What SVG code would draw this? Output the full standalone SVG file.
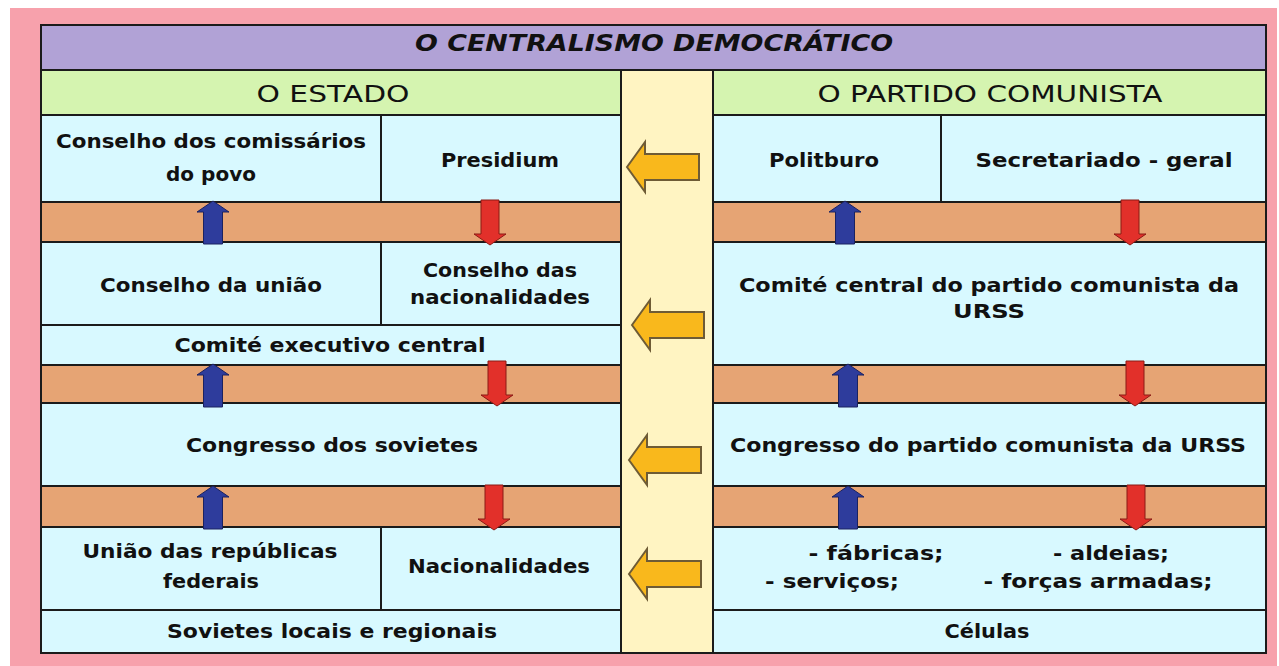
<svg xmlns="http://www.w3.org/2000/svg" xmlns:xlink="http://www.w3.org/1999/xlink" width="1279" height="666" viewBox="0 0 1279 666">
<style>
.ln{stroke:#1b1b1b;stroke-width:2;}
.cell{fill:#D8F9FF;stroke:#1b1b1b;stroke-width:2;}
.band{fill:#E6A474;stroke:#1b1b1b;stroke-width:2;}
.t{font-family:"DejaVu Sans","Liberation Sans",sans-serif;font-weight:bold;font-size:19px;fill:#111;text-anchor:middle;}
.h{font-family:"DejaVu Sans","Liberation Sans",sans-serif;font-size:23px;fill:#111;text-anchor:middle;}
.ti{font-family:"DejaVu Sans","Liberation Sans",sans-serif;font-weight:bold;font-style:italic;font-size:23px;fill:#111;text-anchor:middle;}
.ya{fill:#F9B81C;stroke:#6E5B35;stroke-width:2;stroke-linejoin:miter;}
.ba{fill:#2E3C9C;stroke:#1B2260;stroke-width:1;}
.ra{fill:#E2302A;stroke:#8A1A15;stroke-width:1;}
</style>
<defs>
<path id="yarrow" d="M0,0 L18,-25 L18,-13 L72,-13 L72,13 L18,13 L18,25 Z"/>
<path id="barrow" d="M0,0 L16,11 L9.5,11 L9.5,43 L-9.5,43 L-9.5,11 L-16,11 Z"/>
<path id="rarrow" d="M0,0 L-16,-11 L-9,-11 L-9,-45 L9,-45 L9,-11 L16,-11 Z"/>
</defs>
<rect x="0" y="0" width="1279" height="666" fill="#FFFFFF"/>
<rect x="10" y="8" width="1267" height="658" fill="#F7A1AC"/>

<g id="title">
<rect x="41" y="25" width="1225" height="45" fill="#B1A2D6" class="ln"/>
<text class="ti" x="654" y="51" textLength="478" lengthAdjust="spacingAndGlyphs">O CENTRALISMO DEMOCRÁTICO</text>
</g>
<g id="header-estado">
<rect x="41" y="70" width="580" height="45" fill="#D5F4B0" class="ln"/>
<text class="h" x="333" y="102" textLength="153" lengthAdjust="spacingAndGlyphs">O ESTADO</text>
</g>
<g id="header-partido">
<rect x="713" y="70" width="553" height="45" fill="#D5F4B0" class="ln"/>
<text class="h" x="990" y="102" textLength="345" lengthAdjust="spacingAndGlyphs">O PARTIDO COMUNISTA</text>
</g>
<g id="middle-column">
<rect x="621" y="70" width="92" height="583" fill="#FFF4C2" class="ln"/>
</g>

<g id="bands">
<rect class="band" x="41" y="202" width="580" height="40"/>
<rect class="band" x="41" y="365" width="580" height="38"/>
<rect class="band" x="41" y="486" width="580" height="41"/>
<rect class="band" x="713" y="202" width="553" height="40"/>
<rect class="band" x="713" y="365" width="553" height="38"/>
<rect class="band" x="713" y="486" width="553" height="41"/>
</g>

<g id="conselho-comissarios">
<rect class="cell" x="41" y="115" width="340" height="87"/>
<text class="t" x="211" y="148" textLength="310" lengthAdjust="spacingAndGlyphs">Conselho dos comissários</text>
<text class="t" x="211" y="181" textLength="90" lengthAdjust="spacingAndGlyphs">do povo</text>
</g>
<g id="presidium">
<rect class="cell" x="381" y="115" width="240" height="87"/>
<text class="t" x="500" y="167" textLength="118" lengthAdjust="spacingAndGlyphs">Presidium</text>
</g>
<g id="politburo">
<rect class="cell" x="713" y="115" width="228" height="87"/>
<text class="t" x="824" y="167" textLength="110" lengthAdjust="spacingAndGlyphs">Politburo</text>
</g>
<g id="secretariado">
<rect class="cell" x="941" y="115" width="325" height="87"/>
<text class="t" x="1104" y="167" textLength="257" lengthAdjust="spacingAndGlyphs">Secretariado - geral</text>
</g>

<g id="conselho-uniao">
<rect class="cell" x="41" y="242" width="340" height="83"/>
<text class="t" x="211" y="292" textLength="222" lengthAdjust="spacingAndGlyphs">Conselho da união</text>
</g>
<g id="conselho-nacionalidades">
<rect class="cell" x="381" y="242" width="240" height="83"/>
<text class="t" x="500" y="277" textLength="154" lengthAdjust="spacingAndGlyphs">Conselho das</text>
<text class="t" x="500" y="304" textLength="180" lengthAdjust="spacingAndGlyphs">nacionalidades</text>
</g>
<g id="comite-executivo">
<rect class="cell" x="41" y="325" width="580" height="40"/>
<text class="t" x="330" y="352" textLength="311" lengthAdjust="spacingAndGlyphs">Comité executivo central</text>
</g>
<g id="comite-central">
<rect class="cell" x="713" y="242" width="553" height="123"/>
<text class="t" x="989" y="292" textLength="500" lengthAdjust="spacingAndGlyphs">Comité central do partido comunista da</text>
<text class="t" x="989" y="318" textLength="72" lengthAdjust="spacingAndGlyphs">URSS</text>
</g>

<g id="congresso-sovietes">
<rect class="cell" x="41" y="403" width="580" height="83"/>
<text class="t" x="332" y="452" textLength="292" lengthAdjust="spacingAndGlyphs">Congresso dos sovietes</text>
</g>
<g id="congresso-partido">
<rect class="cell" x="713" y="403" width="553" height="83"/>
<text class="t" x="988" y="452" textLength="516" lengthAdjust="spacingAndGlyphs">Congresso do partido comunista da URSS</text>
</g>

<g id="uniao-republicas">
<rect class="cell" x="41" y="527" width="340" height="83"/>
<text class="t" x="210" y="558" textLength="255" lengthAdjust="spacingAndGlyphs">União das repúblicas</text>
<text class="t" x="211" y="588" textLength="96" lengthAdjust="spacingAndGlyphs">federais</text>
</g>
<g id="nacionalidades">
<rect class="cell" x="381" y="527" width="240" height="83"/>
<text class="t" x="499" y="573" textLength="182" lengthAdjust="spacingAndGlyphs">Nacionalidades</text>
</g>
<g id="locais-trabalho">
<rect class="cell" x="713" y="527" width="553" height="83"/>
<text class="t" x="876" y="560" textLength="135" lengthAdjust="spacingAndGlyphs">- fábricas;</text>
<text class="t" x="1111" y="560" textLength="116" lengthAdjust="spacingAndGlyphs">- aldeias;</text>
<text class="t" x="832" y="588" textLength="134" lengthAdjust="spacingAndGlyphs">- serviços;</text>
<text class="t" x="1098" y="588" textLength="229" lengthAdjust="spacingAndGlyphs">- forças armadas;</text>
</g>
<g id="sovietes-locais">
<rect class="cell" x="41" y="610" width="580" height="43"/>
<text class="t" x="332" y="638" textLength="330" lengthAdjust="spacingAndGlyphs">Sovietes locais e regionais</text>
</g>
<g id="celulas">
<rect class="cell" x="713" y="610" width="553" height="43"/>
<text class="t" x="987" y="638" textLength="85" lengthAdjust="spacingAndGlyphs">Células</text>
</g>

<g id="connectors">
<use href="#yarrow" class="ya" x="627" y="167"/>
<use href="#yarrow" class="ya" x="632" y="325"/>
<use href="#yarrow" class="ya" x="629" y="460"/>
<use href="#yarrow" class="ya" x="629" y="574"/>
<use href="#barrow" class="ba" x="213" y="201"/>
<use href="#barrow" class="ba" x="213" y="364"/>
<use href="#barrow" class="ba" x="213" y="486"/>
<use href="#barrow" class="ba" x="845" y="201"/>
<use href="#barrow" class="ba" x="848" y="364"/>
<use href="#barrow" class="ba" x="848" y="486"/>
<use href="#rarrow" class="ra" x="490" y="245"/>
<use href="#rarrow" class="ra" x="497" y="406"/>
<use href="#rarrow" class="ra" x="494" y="530"/>
<use href="#rarrow" class="ra" x="1130" y="245"/>
<use href="#rarrow" class="ra" x="1135" y="406"/>
<use href="#rarrow" class="ra" x="1136" y="530"/>
</g>
</svg>
